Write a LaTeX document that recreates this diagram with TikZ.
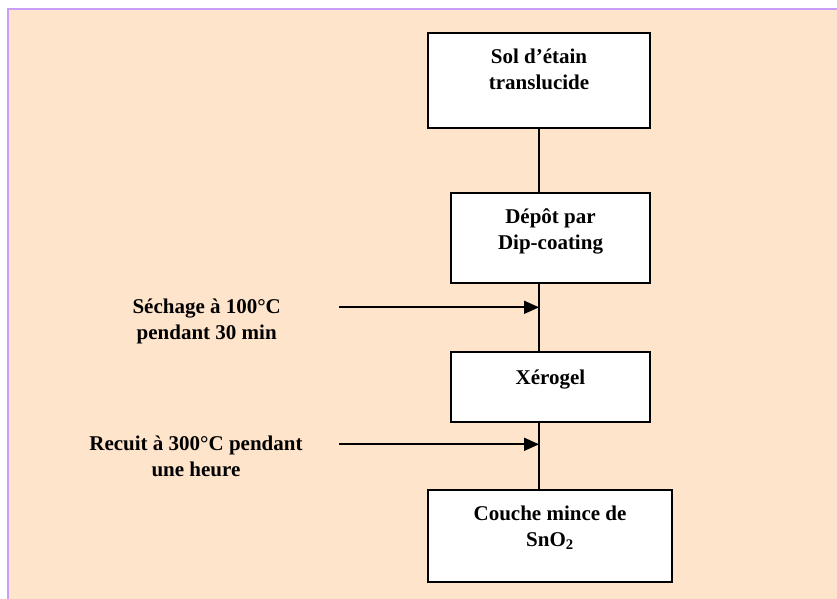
\documentclass[tikz,border=0pt]{standalone}
\usepackage{fontspec}
\setmainfont{Liberation Serif}
\usetikzlibrary{arrows.meta}
\definecolor{peach}{HTML}{FFE4CC}
\definecolor{lilac}{HTML}{C99EF8}
\begin{document}
\begin{tikzpicture}[
        x=1pt, y=-1pt,
        stepbox/.style={draw, line width=2.4pt, fill=white, inner sep=0pt},
        steptext/.style={font=\fontsize{21}{25.5}\selectfont\bfseries, align=center, inner sep=0pt, anchor=base},
        sidetext/.style={steptext},
        flow/.style={line width=1.8pt},
        feed/.style={line width=1.8pt, -{Triangle[length=15pt, width=13pt]}},
      ]
        \useasboundingbox (0,0) rectangle (837,598);
        \clip (0,0) rectangle (837,598);
        \fill[white] (0,0) rectangle (837,598);
        \draw[lilac, line width=2.2pt, fill=peach] (8,9) rectangle (850,610);

        % process boxes
        \node[stepbox, minimum width=222pt, minimum height=95pt] (sol) at (539, 80.5) {};
        \node[stepbox, minimum width=199pt, minimum height=90pt] (depot) at (550.5, 238) {};
        \node[stepbox, minimum width=199pt, minimum height=70pt] (xero) at (550.5, 387) {};
        \node[stepbox, minimum width=244pt, minimum height=92pt] (couche) at (550, 536) {};

        % box texts (base = last line)
        \node[steptext] (soltxt) at (539, 89) {Sol d’étain\\translucide};
        \node[steptext] (depottxt) at (550.5, 249) {Dépôt par\\Dip-coating};
        \node[steptext] (xerotxt) at (550.5, 384) {Xérogel};
        \node[steptext] (couchetxt) at (550, 546) {Couche mince de\\SnO\textsubscript{2}};

        % vertical flow line
        \draw[flow] (sol.south) -- (sol.south |- depot.north);
        \draw[flow] (sol.south |- depot.south) -- (sol.south |- xero.north);
        \draw[flow] (sol.south |- xero.south) -- (sol.south |- couche.north);

        % treatments
        \coordinate (sech) at (339, 307.3);
        \coordinate (recuit) at (339, 444.3);
        \draw[feed] (sech) -- (sech -| sol.south);
        \draw[feed] (recuit) -- (recuit -| sol.south);
        \node[sidetext] (sechtxt) at (206.7, 339) {Séchage à 100°C\\pendant 30 min};
        \node[sidetext] (recuittxt) at (196, 476) {Recuit à 300°C pendant\\une heure};
      \end{tikzpicture}
\end{document}
